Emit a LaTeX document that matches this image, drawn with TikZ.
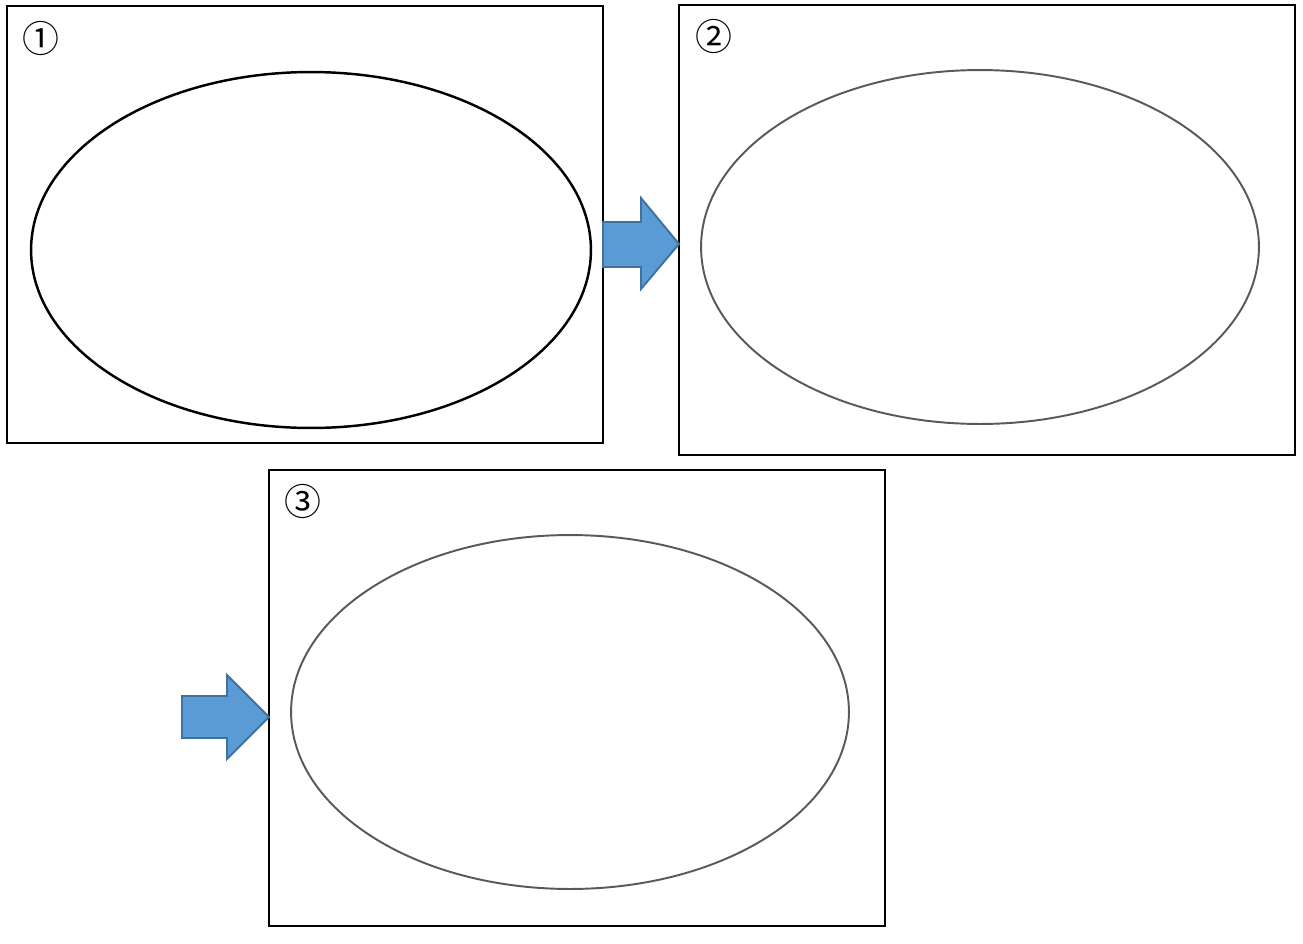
\documentclass[tikz,border=0pt]{standalone}
\usepackage{fontspec}
\newfontfamily\symfont{Noto Sans CJK JP}
\usetikzlibrary{shapes.geometric}
\definecolor{arrowfill}{HTML}{5B9BD5}
\definecolor{arrowline}{HTML}{41719C}
\tikzset{
  panel/.style={draw=black, line width=0.7pt, fill=white},
  oval1/.style={draw=black, line width=1.4pt},
  oval2/.style={draw=black!65, line width=1.1pt},
  blockarrow/.style={fill=arrowfill, draw=arrowline, line width=1.1pt, line join=miter},
  numlabel/.style={font=\symfont\fontsize{21}{22}\selectfont, inner sep=0pt}
}
\begin{document}
\begin{tikzpicture}[x=0.02cm, y=-0.02cm]
\useasboundingbox (0,0) rectangle (1303,944);
% panels
\draw[panel] (7,6) rectangle (603,443);
\draw[panel] (679,5) rectangle (1295,455);
\draw[panel] (269,470) rectangle (885,926);
% ellipses
\node[oval1, ellipse, minimum width=11.2cm, minimum height=7.12cm, inner sep=0pt] (e1) at (311,250) {};
\node[oval2, ellipse, minimum width=11.16cm, minimum height=7.08cm, inner sep=0pt] (e2) at (980,247) {};
\node[oval2, ellipse, minimum width=11.16cm, minimum height=7.08cm, inner sep=0pt] (e3) at (570,712) {};
% labels
\node[numlabel] (n1) at (41,38) {①};
\node[numlabel] (n2) at (714,36) {②};
\node[numlabel] (n3) at (303,501) {③};
% arrows
\draw[blockarrow] (603,222) -- (641,222) -- (641,198) -- (679,244) -- (641,289) -- (641,267) -- (603,267) -- cycle;
\draw[blockarrow] (182,696) -- (227,696) -- (227,675) -- (269,717) -- (227,759) -- (227,738) -- (182,738) -- cycle;
\end{tikzpicture}
\end{document}
